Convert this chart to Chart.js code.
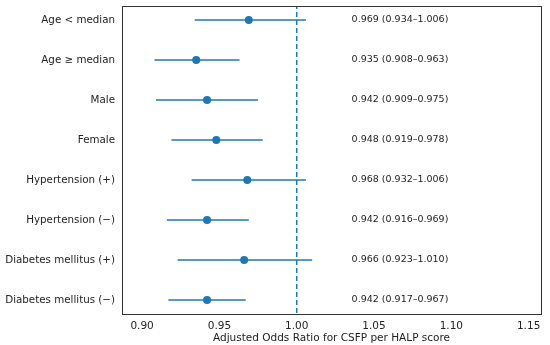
<!DOCTYPE html>
<html>
<head>
<meta charset="utf-8">
<script src="https://cdn.jsdelivr.net/npm/chart.js@4/dist/chart.umd.min.js"></script>
<style>
  html, body { margin: 0; padding: 0; background: #fff; }
  #wrap { width: 550px; height: 345px; }
</style>
</head>
<body>
<div id="wrap"><canvas id="myChart"></canvas></div>
<script>
// subgroup rows, top to bottom
const labels = [
  'Age < median', 'Age \u2265 median', 'Male', 'Female',
  'Hypertension (+)', 'Hypertension (\u2212)',
  'Diabetes mellitus (+)', 'Diabetes mellitus (\u2212)'
];
const oddsRatio = [0.969, 0.935, 0.942, 0.948, 0.968, 0.942, 0.966, 0.942];
const ciLow     = [0.934, 0.908, 0.909, 0.919, 0.932, 0.916, 0.923, 0.917];
const ciHigh    = [1.006, 0.963, 0.975, 0.978, 1.006, 0.969, 1.010, 0.967];
const xTicks = [0.90, 0.95, 1.00, 1.05, 1.10, 1.15];
const refValue = 1.0;
const textX = 1.0355;

const blue = '#1f77b4';
const fontFam = "'DejaVu Sans', sans-serif";

// format the CI text like "0.969 (0.934–1.006)"
function ciText(i) {
  return oddsRatio[i].toFixed(3) + ' (' + ciLow[i].toFixed(3) + '\u2013' + ciHigh[i].toFixed(3) + ')';
}

let datasets = [];

// error bars, one short line per row
for (let i = 0; i < labels.length; i++) {
  datasets.push({
    type: 'line',
    data: [{x: ciLow[i], y: i}, {x: ciHigh[i], y: i}],
    borderColor: blue,
    borderWidth: 1.5,
    pointRadius: 0,
    fill: false
  });
}

// reference line at OR = 1
datasets.push({
  type: 'line',
  data: [{x: refValue, y: -1}, {x: refValue, y: 8}],
  borderColor: blue,
  borderWidth: 1.5,
  borderDash: [5, 3],
  pointRadius: 0,
  fill: false
});

// point estimates
datasets.push({
  type: 'scatter',
  data: oddsRatio.map((v, i) => ({x: v, y: i})),
  backgroundColor: blue,
  borderColor: blue,
  pointRadius: 4,
  borderWidth: 0
});

// draws the full frame and the CI text on the right
const extras = {
  id: 'extras',
  afterDatasetsDraw(chart) {
    const ctx = chart.ctx;
    const a = chart.chartArea;
    const xs = chart.scales.x, ys = chart.scales.y;
    ctx.save();
    ctx.font = '9.5px ' + fontFam;
    ctx.fillStyle = '#222';
    ctx.textAlign = 'left';
    ctx.textBaseline = 'middle';
    for (let i = 0; i < labels.length; i++) {
      ctx.fillText(ciText(i), xs.getPixelForValue(textX), ys.getPixelForValue(i));
    }
    ctx.strokeStyle = '#333';
    ctx.lineWidth = 1;
    ctx.strokeRect(Math.round(a.left) + 0.5, Math.round(a.top) + 0.5,
      Math.round(a.right - a.left), Math.round(a.bottom - a.top));
    ctx.restore();
  }
};

const config = {
  type: 'scatter',
  data: { datasets: datasets },
  options: {
    responsive: true,
    maintainAspectRatio: false,
    animation: false,
    layout: { padding: { top: 6, right: 9, left: 0, bottom: 0 } },
    plugins: {
      legend: { display: false },
      tooltip: { enabled: false }
    },
    scales: {
      x: {
        type: 'linear',
        min: 0.887,
        max: 1.158,
        afterBuildTicks: (s) => { s.ticks = xTicks.map(v => ({value: v})); },
        afterFit: (s) => { s.height = 31; s.paddingLeft = 0; s.paddingRight = 0; },
        ticks: {
          callback: (v) => v.toFixed(2),
          color: '#222',
          font: { family: fontFam, size: 10.5 },
          padding: 2,
          maxRotation: 0
        },
        grid: { display: false, drawTicks: true, tickLength: 4, tickColor: '#333' },
        border: { display: false },
        title: {
          display: true,
          text: 'Adjusted Odds Ratio for CSFP per HALP score',
          color: '#222',
          font: { family: fontFam, size: 10.5 },
          padding: { top: 1, bottom: 0 }
        }
      },
      y: {
        type: 'linear',
        reverse: true,
        min: -0.35,
        max: 7.35,
        afterBuildTicks: (s) => { s.ticks = labels.map((l, i) => ({value: i})); },
        afterFit: (s) => { s.width = 122; s.paddingTop = 0; s.paddingBottom = 0; },
        ticks: {
          callback: (v) => labels[v],
          color: '#222',
          font: { family: fontFam, size: 10.3 },
          padding: 3
        },
        grid: { display: false, drawTicks: true, tickLength: 4, tickColor: '#333' },
        border: { display: false }
      }
    }
  },
  plugins: [extras]
};

var myChart = document.getElementById('myChart').getContext('2d');
var theChart = new Chart(myChart, config);
</script>
</body>
</html>
